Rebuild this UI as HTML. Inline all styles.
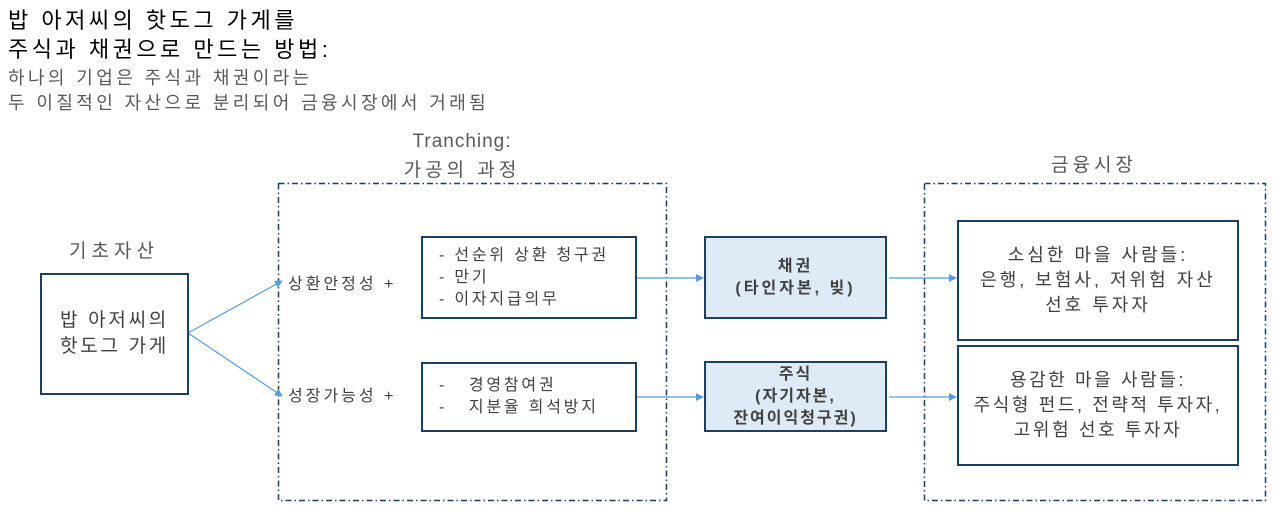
<!DOCTYPE html>
<html><head><meta charset="utf-8"><style>
body{margin:0;width:1280px;height:515px;background:#fff;position:relative;overflow:hidden;font-family:"Liberation Sans","Noto Sans CJK KR",sans-serif;color:#404040;letter-spacing:3px}
.t{position:absolute;white-space:nowrap}
.b{position:absolute;box-sizing:border-box;border:2px solid #1f3f5f;display:flex;align-items:center;justify-content:center;text-align:center;white-space:nowrap}
</style></head><body>
<div class="t" style="left:8px;top:6px;font-size:22px;color:#000;line-height:29px;letter-spacing:3.5px">밥 아저씨의 핫도그 가게를<br>주식과 채권으로 만드는 방법:</div>
<div class="t" style="left:8px;top:66px;font-size:18px;color:#595959;line-height:25px;letter-spacing:3.4px">하나의 기업은 주식과 채권이라는<br>두 이질적인 자산으로 분리되어 금융시장에서 거래됨</div>
<div class="t" style="left:362px;top:128px;width:200px;text-align:center;font-size:19px;color:#595959;line-height:27px;letter-spacing:1px">Tranching:</div>
<div class="t" style="left:362px;top:155px;width:200px;text-align:center;font-size:19px;color:#595959;letter-spacing:4px">가공의 과정</div>
<div class="t" style="left:994px;top:150px;width:200px;text-align:center;font-size:19px;color:#595959;letter-spacing:4px">금융시장</div>
<div class="t" style="left:14px;top:236px;width:200px;text-align:center;font-size:19px;color:#595959;letter-spacing:5px">기초자산</div>
<svg width="1280" height="515" style="position:absolute;left:0;top:0">
<defs><marker id="a" markerWidth="8" markerHeight="8" refX="7" refY="4" orient="auto" markerUnits="userSpaceOnUse"><path d="M0,0L8,4L0,8z" fill="#5b9bd5"/></marker></defs>
<rect x="278.5" y="183.5" width="388" height="317" fill="none" stroke="#1f3f5f" stroke-width="1.5" stroke-dasharray="6,3,1.5,3"/>
<rect x="924.5" y="183.5" width="341" height="317" fill="none" stroke="#1f3f5f" stroke-width="1.5" stroke-dasharray="6,3,1.5,3"/>
<g stroke="#5b9bd5" stroke-width="1.2" fill="none" marker-end="url(#a)">
<line x1="188" y1="333" x2="282" y2="281"/>
<line x1="188" y1="333" x2="282" y2="396"/>
<line x1="637" y1="278" x2="703" y2="278"/>
<line x1="637" y1="397" x2="703" y2="397"/>
<line x1="889" y1="278" x2="956" y2="278"/>
<line x1="889" y1="397" x2="956" y2="397"/>
</g>
</svg>
<div class="b" style="left:40px;top:273px;width:149px;height:122px;font-size:19px;line-height:26px;letter-spacing:2.7px">밥 아저씨의<br>핫도그 가게</div>
<div class="t" style="left:288px;top:270px;font-size:16px">상환안정성 +</div>
<div class="t" style="left:288px;top:382px;font-size:16px">성장가능성 +</div>
<div class="b" style="left:421px;top:236px;width:216px;height:83px;font-size:16px;line-height:22px;justify-content:flex-start;text-align:left;padding-left:16px;letter-spacing:2.8px">- 선순위 상환 청구권<br>- 만기<br>- 이자지급의무</div>
<div class="b" style="left:421px;top:362px;width:216px;height:70px;font-size:16px;line-height:22px;justify-content:flex-start;text-align:left;padding-left:16px;letter-spacing:2.8px">-&nbsp;&nbsp; 경영참여권<br>-&nbsp;&nbsp; 지분율 희석방지</div>
<div class="b" style="left:704px;top:236px;width:183px;height:83px;background:#deebf7;font-size:16px;font-weight:bold;line-height:22px">채권<br>(타인자본, 빚)</div>
<div class="b" style="left:704px;top:361px;width:183px;height:71px;background:#deebf7;font-size:16px;font-weight:bold;line-height:22px;letter-spacing:2px">주식<br>(자기자본,<br>잔여이익청구권)</div>
<div class="b" style="left:957px;top:220px;width:282px;height:121px;font-size:18px;line-height:25px">소심한 마을 사람들:<br>은행, 보험사, 저위험 자산<br>선호 투자자</div>
<div class="b" style="left:957px;top:345px;width:282px;height:121px;font-size:18px;line-height:25px;letter-spacing:2.6px">용감한 마을 사람들:<br>주식형 펀드, 전략적 투자자,<br>고위험 선호 투자자</div>
</body></html>
